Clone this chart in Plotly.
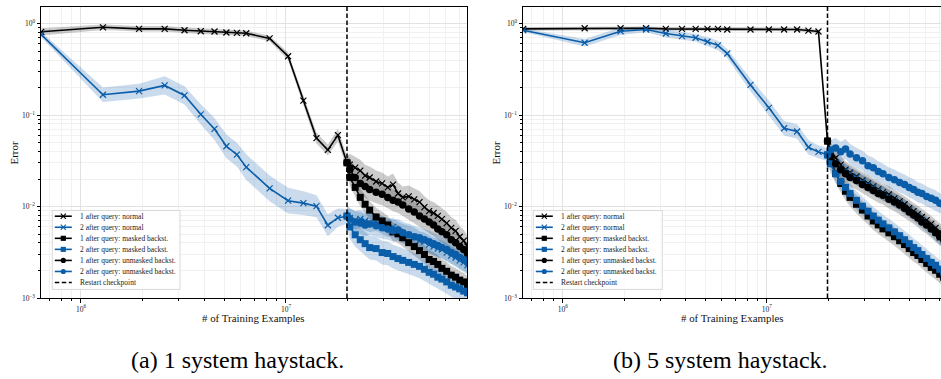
import plotly.graph_objects as go

W, H = 941, 379
FONT = "Liberation Serif, Times New Roman, serif"

# ---------------- data ----------------
STEP = 6.4e5  # training examples per checkpoint step
k_pre = [1, 2, 3, 4, 5, 6, 7, 8, 9, 10, 13, 16, 19, 22, 25, 28, 31]
k_post = [32, 34, 36, 38, 40, 43, 46, 49, 52, 55, 58, 62, 66, 70, 74, 78, 82, 86, 90, 95,
          100, 105, 110, 115, 120]
k_normal = k_pre + k_post
k_back = [31] + k_post
restart_k = 31

# (a) 1 system haystack
a_norm1 = [0.814, 0.912, 0.877, 0.877, 0.847, 0.826, 0.820, 0.800, 0.794, 0.785, 0.689, 0.440,
           0.144, 0.0561, 0.0416, 0.0604, 0.0301,
           0.0287, 0.0266, 0.0247, 0.0218, 0.0208, 0.0188, 0.0179, 0.0162, 0.0174, 0.0139, 0.0126,
           0.0129, 0.0120, 0.0112, 0.00985, 0.0089, 0.0085, 0.0079, 0.0073, 0.0066, 0.00585,
           0.00543, 0.00468, 0.00423, 0.00365]
a_norm2 = [0.760, 0.167, 0.183, 0.211, 0.164, 0.102, 0.0706, 0.0456, 0.0370, 0.0270, 0.0158,
           0.0116, 0.0109, 0.0101, 0.00625, 0.00755, 0.0078,
           0.0075, 0.0071, 0.00731, 0.00696, 0.00662, 0.00679, 0.0063, 0.00585, 0.0060, 0.00543,
           0.00516, 0.00491, 0.00468, 0.00423, 0.00413, 0.00384, 0.00365, 0.00347, 0.00339,
           0.00314, 0.00292, 0.00277, 0.00258, 0.00245, 0.00228]
a_mask1 = [0.0301, 0.0208, 0.0162, 0.0126, 0.0106, 0.00915, 0.00769, 0.00696, 0.0063, 0.00529,
           0.00504, 0.00456, 0.00403, 0.00365, 0.0033, 0.00299, 0.00264, 0.00251, 0.00233,
           0.00211, 0.00196, 0.00178, 0.00169, 0.00157, 0.0015, 0.00138]
a_mask2 = [0.00788, 0.0060, 0.00491, 0.00434, 0.00393, 0.00356, 0.00347, 0.00314, 0.00307,
           0.00284, 0.0027, 0.00258, 0.00245, 0.00233, 0.00222, 0.00206, 0.00191, 0.00182,
           0.00169, 0.00161, 0.0015, 0.00138, 0.00132, 0.00126, 0.00119, 0.00114]
a_unm1 = [0.0301, 0.0253, 0.0208, 0.0179, 0.0166, 0.0154, 0.0143, 0.0136, 0.0126, 0.0117,
          0.0112, 0.0104, 0.00938, 0.00871, 0.00788, 0.00731, 0.00679, 0.0063, 0.0057, 0.00529,
          0.00491, 0.00434, 0.00403, 0.00365, 0.00339, 0.00307]
a_unm2 = [0.00788, 0.00731, 0.00679, 0.00662, 0.0063, 0.00646, 0.00615, 0.00585, 0.0057,
          0.00543, 0.00556, 0.00516, 0.00491, 0.00468, 0.00456, 0.00434, 0.00413, 0.00393,
          0.00374, 0.00356, 0.00339, 0.00314, 0.00299, 0.00277, 0.00264, 0.00245]
# band half-widths (log10 units)
a_norm1_spread_pre = [0.04, 0.03, 0.03, 0.03, 0.03, 0.03, 0.03, 0.03, 0.03, 0.03, 0.03, 0.04,
                      0.05, 0.06, 0.06, 0.07, 0.07]
a_norm2_spread_pre = [0.03, 0.08, 0.08, 0.10, 0.10, 0.11, 0.12, 0.13, 0.13, 0.14, 0.14, 0.14,
                      0.13, 0.12, 0.12, 0.10, 0.08]
a_spread_post = {"norm1": 0.12, "norm2": 0.10, "mask1": 0.10, "mask2": 0.13, "unm1": 0.12,
                 "unm2": 0.12}

# (b) 5 system haystack
b_norm1 = [0.877, 0.890, 0.890, 0.890, 0.877, 0.877, 0.877, 0.877, 0.877, 0.862, 0.862, 0.862,
           0.862, 0.862, 0.840, 0.820, 0.052,
           0.0415, 0.0341, 0.0287, 0.0253, 0.0235, 0.0213, 0.0193, 0.0179, 0.0166, 0.0154, 0.0143,
           0.0136, 0.0123, 0.0114, 0.0106, 0.0096, 0.0089, 0.00828, 0.00769, 0.0071, 0.00646,
           0.00585, 0.00529, 0.00491, 0.00456]
b_norm2 = [0.847, 0.618, 0.826, 0.862, 0.780, 0.730, 0.701, 0.634, 0.579, 0.471, 0.214, 0.120,
           0.0719, 0.0662, 0.0445, 0.0396, 0.0371,
           0.0341, 0.0301, 0.0266, 0.0247, 0.0229, 0.0208, 0.0188, 0.0174, 0.0162, 0.015, 0.0139,
           0.0129, 0.0117, 0.0109, 0.00985, 0.00915, 0.00828, 0.00769, 0.00696, 0.0063, 0.0057,
           0.00516, 0.00456, 0.00423, 0.00384]
b_mask1 = [0.052, 0.0325, 0.0229, 0.0179, 0.0147, 0.0126, 0.0106, 0.00915, 0.00788, 0.00696,
           0.0063, 0.0057, 0.00516, 0.00468, 0.00423, 0.00384, 0.00347, 0.00314, 0.00292,
           0.00264, 0.00239, 0.00216, 0.00201, 0.00182, 0.00169, 0.00157]
b_mask2 = [0.0367, 0.0294, 0.0229, 0.0188, 0.0162, 0.0139, 0.0117, 0.0101, 0.0089, 0.00788,
           0.0071, 0.00646, 0.00585, 0.00529, 0.0048, 0.00434, 0.00393, 0.00356, 0.0033,
           0.00299, 0.0027, 0.00245, 0.00228, 0.00206, 0.00191, 0.00178]
b_unm1 = [0.052, 0.0357, 0.0294, 0.0253, 0.0229, 0.0208, 0.0193, 0.0174, 0.0162, 0.015, 0.0139,
          0.0133, 0.012, 0.0112, 0.0104, 0.0096, 0.00871, 0.0081, 0.0075, 0.00679, 0.0063,
          0.0057, 0.00516, 0.00468, 0.00434, 0.00403]
b_unm2 = [0.0367, 0.0415, 0.0437, 0.0397, 0.0426, 0.0376, 0.0341, 0.0317, 0.028, 0.0266, 0.0241,
          0.0229, 0.0208, 0.0197, 0.0183, 0.0174, 0.0162, 0.0154, 0.0143, 0.0139, 0.0129,
          0.0123, 0.0117, 0.0109, 0.0104, 0.00985]
b_norm1_spread_pre = [0.02, 0.02, 0.02, 0.02, 0.02, 0.02, 0.02, 0.02, 0.02, 0.02, 0.02, 0.02,
                      0.02, 0.02, 0.02, 0.02, 0.06]
b_norm2_spread_pre = [0.02, 0.04, 0.04, 0.03, 0.04, 0.04, 0.04, 0.05, 0.05, 0.05, 0.07, 0.08,
                      0.08, 0.08, 0.08, 0.07, 0.07]
b_spread_post = {"norm1": 0.09, "norm2": 0.08, "mask1": 0.10, "mask2": 0.10, "unm1": 0.10,
                 "unm2": 0.11}

legend_labels = ["1 after query: normal", "2 after query: normal",
                 "1 after query: masked backst.", "2 after query: masked backst.",
                 "1 after query: unmasked backst.", "2 after query: unmasked backst.",
                 "Restart checkpoint"]
captions = ["(a) 1 system haystack.", "(b) 5 system haystack."]
x_title = "# of Training Examples"
y_title = "Error"

# ---------------- style ----------------
BLACK = "#000000"
BLUE = "#0a5da8"
FILL = {BLACK: "rgba(0,0,0,0.20)", BLUE: "rgba(10,93,168,0.22)"}


def px2x(x):
    return x / W


def px2y(y):
    return 1 - y / H


fig = go.Figure()


def add_band(xk, ys, spread, color, xa, ya):
    xs = [k * STEP for k in xk]
    hi = [y * 10 ** s for y, s in zip(ys, spread)]
    lo = [y * 10 ** (-s) for y, s in zip(ys, spread)]
    fig.add_trace(go.Scatter(x=xs + xs[::-1], y=hi + lo[::-1], fill="toself",
                             fillcolor=FILL[color], line=dict(width=0), mode="lines",
                             hoverinfo="skip", showlegend=False, xaxis=xa, yaxis=ya))


def add_line(xk, ys, color, kind, xa, ya):
    xs = [k * STEP for k in xk]
    if kind == "norm":
        marker = dict(symbol="x-thin", size=6, line=dict(width=1.2, color=color), color=color)
    elif kind == "mask":
        marker = dict(symbol="square", size=7, color=color, line=dict(width=0))
    else:
        marker = dict(symbol="circle", size=7.5, color=color, line=dict(width=0))
    fig.add_trace(go.Scatter(x=xs, y=ys, mode="lines+markers", line=dict(color=color, width=1.6),
                             marker=marker, showlegend=False, xaxis=xa, yaxis=ya,
                             hoverinfo="skip"))


panels = [
    ("x", "y", a_norm1, a_norm2, a_mask1, a_mask2, a_unm1, a_unm2,
     a_norm1_spread_pre, a_norm2_spread_pre, a_spread_post),
    ("x2", "y2", b_norm1, b_norm2, b_mask1, b_mask2, b_unm1, b_unm2,
     b_norm1_spread_pre, b_norm2_spread_pre, b_spread_post),
]

for (xa, ya, n1, n2, m1, m2, u1, u2, s1, s2, sp) in panels:
    series = [
        (k_normal, n1, s1 + [sp["norm1"]] * len(k_post), BLACK, "norm"),
        (k_normal, n2, s2 + [sp["norm2"]] * len(k_post), BLUE, "norm"),
        (k_back, m1, [sp["mask1"]] * len(k_back), BLACK, "mask"),
        (k_back, m2, [sp["mask2"]] * len(k_back), BLUE, "mask"),
        (k_back, u1, [sp["unm1"]] * len(k_back), BLACK, "unm"),
        (k_back, u2, [sp["unm2"]] * len(k_back), BLUE, "unm"),
    ]
    for xk, ys, spr, col, kind in series:
        add_band(xk, ys, spr, col, xa, ya)
    for xk, ys, spr, col, kind in series:
        add_line(xk, ys, col, kind, xa, ya)

# ---------------- axes ----------------
minor_x = [m * 10 ** e for e in (5, 6, 7) for m in range(2, 10)]
minor_y = [m * 10.0 ** e for e in (-3, -2, -1, 0) for m in range(2, 10)]

ydom = [px2y(302), px2y(7)]
common_x = dict(type="log", showline=True, linecolor="black", linewidth=1,
                ticks="outside", ticklen=3.5, tickwidth=0.8, tickcolor="black",
                tickvals=[1e6, 1e7], ticktext=["10<sup>6</sup>", "10<sup>7</sup>"],
                tickfont=dict(size=7.5, family=FONT, color="#222"),
                showgrid=True, gridcolor="#e2e2e2", gridwidth=0.8, zeroline=False,
                minor=dict(tickmode="array", tickvals=minor_x, ticks="outside", ticklen=2,
                           tickwidth=0.6, tickcolor="black", showgrid=True,
                           gridcolor="#f1f1f1", gridwidth=0.6))
common_y = dict(type="log", showline=True, linecolor="black", linewidth=1,
                ticks="outside", ticklen=3.5, tickwidth=0.8, tickcolor="black",
                tickvals=[1e-3, 1e-2, 1e-1, 1e0],
                ticktext=["10<sup>\u22123</sup>", "10<sup>\u22122</sup>", "10<sup>\u22121</sup>",
                          "10<sup>0</sup>"],
                tickfont=dict(size=7.5, family=FONT, color="#222"),
                showgrid=True, gridcolor="#e2e2e2", gridwidth=0.8, zeroline=False,
                range=[-3, 0.183], domain=ydom,
                minor=dict(tickmode="array", tickvals=minor_y, ticks="outside", ticklen=2,
                           tickwidth=0.6, tickcolor="black", showgrid=True,
                           gridcolor="#f1f1f1", gridwidth=0.6))

fig.update_layout(
    xaxis=dict(common_x, domain=[px2x(41), px2x(467)], range=[5.805, 7.883], mirror=True,
               anchor="y"),
    yaxis=dict(common_y, mirror=True, anchor="x"),
    xaxis2=dict(common_x, domain=[px2x(523), 1.0], range=[5.805, 7.854], mirror=True,
                anchor="y2"),
    yaxis2=dict(common_y, mirror=False, anchor="x2"),
)

shapes = []
annotations = []

# restart checkpoint lines
for xa, ya in (("x", "y"), ("x2", "y2")):
    shapes.append(dict(type="line", xref=xa, yref=ya + " domain", x0=restart_k * STEP,
                       x1=restart_k * STEP, y0=0, y1=1,
                       line=dict(color="black", width=1.5, dash="4.5px,2.5px"), layer="above"))

# axis titles and captions
for cx in (254, 732):
    annotations.append(dict(x=px2x(cx), y=px2y(322), xref="paper", yref="paper", text=x_title,
                            showarrow=False, font=dict(size=10.9, family=FONT, color="#111"),
                            xanchor="center", yanchor="middle"))
for cx in (13.5, 495.5):
    annotations.append(dict(x=px2x(cx), y=px2y(155), xref="paper", yref="paper", text=y_title,
                            showarrow=False, textangle=-90,
                            font=dict(size=10.9, family=FONT, color="#111"),
                            xanchor="center", yanchor="middle"))
for cx, cap in ((237, captions[0]), (720, captions[1])):
    annotations.append(dict(x=px2x(cx), y=px2y(365), xref="paper", yref="paper", text=cap,
                            showarrow=False, font=dict(size=24, family=FONT, color="#000"),
                            xanchor="center", yanchor="middle"))

# legends (drawn as layout shapes + text)
leg_colors = [BLACK, BLUE, BLACK, BLUE, BLACK, BLUE, BLACK]
leg_kinds = ["norm", "norm", "mask", "mask", "unm", "unm", "dash"]


def draw_legend(bx, by, bw, bh):
    shapes.append(dict(type="rect", xref="paper", yref="paper", x0=px2x(bx), x1=px2x(bx + bw),
                       y0=px2y(by), y1=px2y(by + bh), fillcolor="rgba(255,255,255,0.85)",
                       line=dict(color="#cfcfcf", width=0.8), layer="above"))
    for i, (lab, col, kind) in enumerate(zip(legend_labels, leg_colors, leg_kinds)):
        yc = by + 5.8 + i * 11.2
        shapes.append(dict(type="line", xref="paper", yref="paper", x0=px2x(bx + 2.5),
                           x1=px2x(bx + 19.5), y0=px2y(yc), y1=px2y(yc),
                           line=dict(color=col, width=1.6,
                                     dash="4.5px,2.5px" if kind == "dash" else "solid"),
                           layer="above"))
        cx = bx + 11
        r = 2.6
        if kind == "mask":
            shapes.append(dict(type="rect", xref="paper", yref="paper", x0=px2x(cx - r),
                               x1=px2x(cx + r), y0=px2y(yc + r), y1=px2y(yc - r),
                               fillcolor=col, line=dict(width=0), layer="above"))
        elif kind == "unm":
            shapes.append(dict(type="circle", xref="paper", yref="paper", x0=px2x(cx - r),
                               x1=px2x(cx + r), y0=px2y(yc + r), y1=px2y(yc - r),
                               fillcolor=col, line=dict(width=0), layer="above"))
        elif kind == "norm":
            path = (f"M {px2x(cx - r)} {px2y(yc - r)} L {px2x(cx + r)} {px2y(yc + r)} "
                    f"M {px2x(cx - r)} {px2y(yc + r)} L {px2x(cx + r)} {px2y(yc - r)}")
            shapes.append(dict(type="path", xref="paper", yref="paper", path=path,
                               line=dict(color=col, width=1.1), layer="above"))
        annotations.append(dict(x=px2x(bx + 25.3), y=px2y(yc), xref="paper", yref="paper",
                                text=lab, showarrow=False, xanchor="left", yanchor="middle",
                                font=dict(size=7.5, family=FONT, color="#222")))


draw_legend(52.3, 213.3, 127.7, 80)
draw_legend(533.3, 213.3, 129, 80)

fig.update_layout(
    width=W, height=H, margin=dict(l=0, r=0, t=0, b=0),
    paper_bgcolor="white", plot_bgcolor="white",
    showlegend=False, shapes=shapes, annotations=annotations,
    font=dict(family=FONT),
)

fig.write_html("out.html", config={"displayModeBar": False})
